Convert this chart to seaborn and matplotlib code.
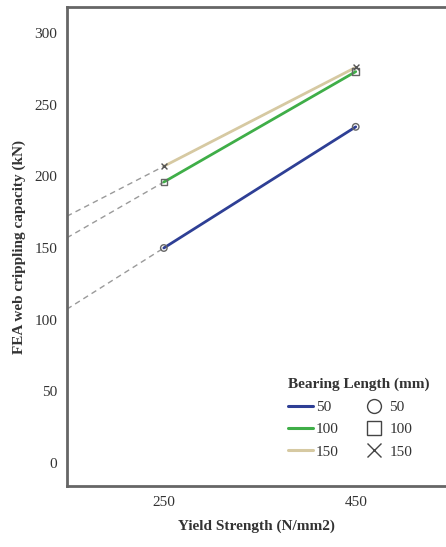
import numpy as np
import pandas as pd
import matplotlib
matplotlib.use("Agg")
import matplotlib.pyplot as plt
from matplotlib.lines import Line2D
import seaborn as sns

# ---- data ----
yield_strength = [250, 450]
bearing_lengths = ["50", "100", "150"]
cap_50 = [150, 234.5]
cap_100 = [196, 273]
cap_150 = [207, 276]
y_ticks = [0, 50, 100, 150, 200, 250, 300]
x_ticks = [250, 450]

colors = {"50": "#2e3f95", "100": "#3fae48", "150": "#d6c9a2"}
mk = {"50": "o", "100": "s", "150": "x"}

rows = []
for b, vals in zip(bearing_lengths, [cap_50, cap_100, cap_150]):
    for x, v in zip(yield_strength, vals):
        rows.append({"Yield": x, "Cap": v, "Bearing": b})
df = pd.DataFrame(rows)

sns.set_style("white")
plt.rcParams["font.family"] = ["Liberation Serif", "DejaVu Serif"]

fig = plt.figure(figsize=(4.46, 5.47), dpi=100)
ax = fig.add_axes([0.150, 0.1115, 0.852, 0.8755])

xmin, xmax = 149, 545
# dashed extrapolation back to the y axis
for b, vals in zip(bearing_lengths, [cap_50, cap_100, cap_150]):
    slope = (vals[1] - vals[0]) / (yield_strength[1] - yield_strength[0])
    y0 = vals[0] - slope * (yield_strength[0] - xmin)
    ax.plot([xmin, yield_strength[0]], [y0, vals[0]], ls=(0, (4, 3)),
            color="#9a9a9a", lw=1.0, zorder=1)

sns.lineplot(data=df, x="Yield", y="Cap", hue="Bearing", palette=colors,
             hue_order=bearing_lengths, lw=2.0, legend=False, ax=ax, zorder=2)

for b in bearing_lengths:
    sub = df[df["Bearing"] == b]
    if mk[b] == "x":
        ax.scatter(sub["Yield"], sub["Cap"], marker="x", s=18, color="#555555",
                   linewidths=1.0, zorder=3)
    else:
        ax.scatter(sub["Yield"], sub["Cap"], marker=mk[b], s=22,
                   facecolors="none", edgecolors="#666666", linewidths=1.0, zorder=3)

ax.set_xlim(xmin, xmax)
ax.set_ylim(-16, 318)
ax.set_xticks(x_ticks)
ax.set_yticks(y_ticks)
ax.tick_params(axis="both", direction="out", length=5, width=1.2, color="#555555",
               labelsize=11, labelcolor="#333333", pad=2)
for s in ["left", "bottom", "top"]:
    ax.spines[s].set_color("#666666")
    ax.spines[s].set_linewidth(2.0)
ax.spines["right"].set_visible(False)

ax.set_xlabel("Yield Strength (N/mm2)", fontsize=11, fontweight="bold",
              color="#333333", labelpad=8)
ax.set_ylabel("FEA web crippling capacity (kN)", fontsize=11, fontweight="bold",
              color="#333333", labelpad=6)

handles = []
labels = []
for b in bearing_lengths:
    handles.append(Line2D([], [], color=colors[b], lw=2.2))
    labels.append(b)
for b in bearing_lengths:
    if mk[b] == "x":
        handles.append(Line2D([], [], ls="none", marker="x", color="#444444",
                              markersize=10, markeredgewidth=1.0))
    else:
        handles.append(Line2D([], [], ls="none", marker=mk[b], markerfacecolor="none",
                              markeredgecolor="#444444", markersize=10, markeredgewidth=1.0))
    labels.append(b)

leg = ax.legend(handles, labels, ncol=2, title="Bearing Length (mm)", frameon=False,
                loc="lower left", bbox_to_anchor=(0.555, 0.035), fontsize=11,
                title_fontproperties={"weight": "bold", "size": 11},
                handlelength=1.6, handletextpad=0.2, columnspacing=1.5,
                labelspacing=0.55, borderpad=0.2)
leg._legend_box.align = "left"
leg._legend_box.sep = 7
for t in leg.get_texts():
    t.set_color("#333333")
leg.get_title().set_color("#333333")

fig.savefig("out.png", dpi=100)
